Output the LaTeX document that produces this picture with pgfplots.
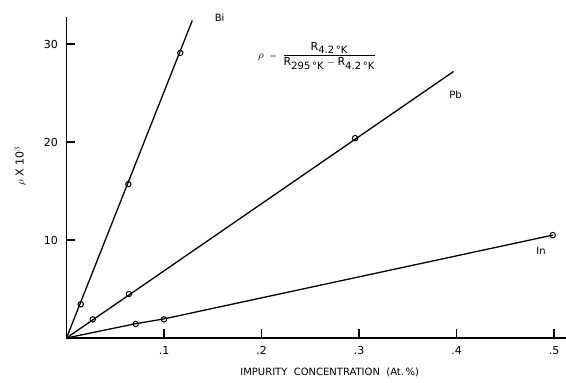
\documentclass[border=0pt]{standalone}
\usepackage{fontspec}
\setmainfont{DejaVu Sans}
\usepackage{pgfplots}
\pgfplotsset{compat=1.18}
\newcommand{\Rs}[1]{\mbox{R}_{\mbox{\fontsize{10}{11}\selectfont #1}}}
\begin{document}
\begin{tikzpicture}[x=1pt,y=1pt]
\useasboundingbox (0,0) rectangle (566,383);
\begin{axis}[
 at={(66.5pt,45pt)}, anchor=south west, scale only axis,
 width=499.5pt, height=321pt,
 xmin=0, xmax=0.5123, ymin=0, ymax=32.76,
 axis x line=bottom, axis y line=left,
 axis line style={-, line width=1.1pt},
 xtick={0.1,0.2,0.3,0.4,0.5}, xticklabels={.1,.2,.3,.4,.5},
 ytick={10,20,30},
 tick align=inside, major tick length=9pt,
 tick style={line width=1.1pt, black},
 tick label style={font=\fontsize{11}{13}\selectfont},
 yticklabel style={xshift=-5pt},
 xticklabel style={yshift=-5pt},
 /pgf/number format/assume math mode=true,
 clip=false,
]
% Bi
\addplot[black, line width=1.3pt] coordinates {(0,0) (0.129,32.4)};
\addplot[only marks, mark=o, mark size=2.7pt, mark options={fill=white, line width=1pt}]
  coordinates {(0.0146,3.44) (0.0634,15.7) (0.1167,29.1)};
% Pb
\addplot[black, line width=1.3pt] coordinates {(0,0) (0.397,27.2)};
\addplot[only marks, mark=o, mark size=2.7pt, mark options={fill=white, line width=1pt}]
  coordinates {(0.0269,1.9) (0.064,4.49) (0.296,20.4)};
% In
\addplot[black, line width=1.3pt] coordinates {(0,0) (0.0705,1.45) (0.1,1.95) (0.4987,10.5)};
\addplot[only marks, mark=o, mark size=2.7pt, mark options={fill=white, line width=1pt}]
  coordinates {(0.071,1.43) (0.1,1.9) (0.4987,10.5)};

\node[font=\fontsize{10}{12}\selectfont] at (axis cs:0.157,32.65) {Bi};
\node[font=\fontsize{10}{12}\selectfont] at (axis cs:0.399,24.8) {Pb};
\node[font=\fontsize{10}{12}\selectfont] at (axis cs:0.4867,8.9) {In};
\node[font=\fontsize{11}{13}\selectfont] at (axis cs:0.257,28.8)
  {$\displaystyle{\textstyle\rho}\;\;{\scriptstyle=}\;\;\frac{\Rs{4.2\,°K}\rule[-4pt]{0pt}{1pt}}{\rule{0pt}{9pt}\Rs{295\,°K}-\Rs{4.2\,°K}}$};
\node[rotate=90, font=\fontsize{11}{13}\selectfont] at (rel axis cs:-0.093,0.536) {$\rho$ X 10$^{3}$};
\node[font=\fontsize{10}{13}\selectfont] at (axis cs:0.270,-3.5) {IMPURITY\ \ CONCENTRATION\ \ (At.\,\%)};
\end{axis}
\end{tikzpicture}
\end{document}
